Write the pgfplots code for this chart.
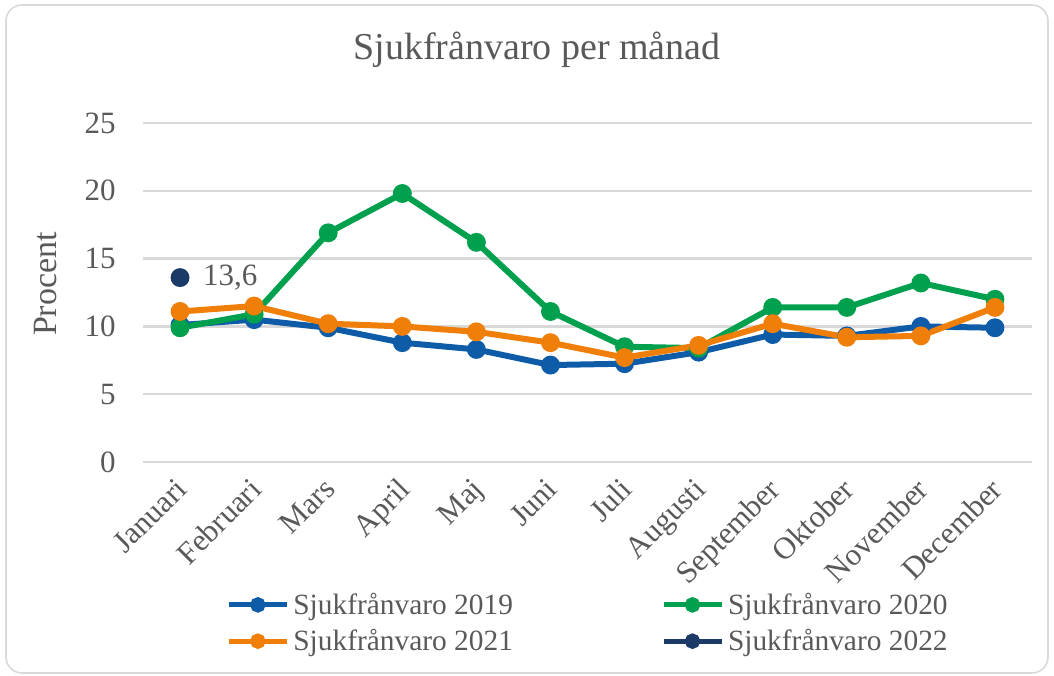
\documentclass[border=0pt]{standalone}
\usepackage{fontspec}
\setmainfont{Liberation Serif}
\usepackage{pgfplots}
\pgfplotsset{compat=1.18}
\definecolor{cBlue}{HTML}{0E5CA8}
\definecolor{cGreen}{HTML}{00A04F}
\definecolor{cOrange}{HTML}{F07F09}
\definecolor{cNavy}{HTML}{1B3A68}
\definecolor{cText}{HTML}{595959}
\definecolor{cGrid}{HTML}{D9D9D9}
\begin{document}
\begin{tikzpicture}
\useasboundingbox (0,0) rectangle (527pt,337.5pt);
\draw[cGrid, line width=0.8pt, rounded corners=8pt] (3pt,1pt) rectangle (524pt,335pt);
\node[text=cText, font=\fontsize{19}{22}\selectfont] at (268.5pt,312.5pt) {Sjukfrånvaro per månad};
\node[text=cText, rotate=90, font=\fontsize{17}{20}\selectfont] at (23pt,195.5pt) {Procent};
\begin{axis}[
  at={(71.5pt,106.5pt)}, anchor=south west,
  scale only axis, width=444.5pt, height=169.5pt,
  xmin=-0.5, xmax=11.5, ymin=0, ymax=25,
  ytick={0,5,10,15,20,25},
  xtick={0,...,11},
  xticklabels={Januari,Februari,Mars,April,Maj,Juni,Juli,Augusti,September,Oktober,November,December},
  axis line style={draw=none},
  major tick length=0pt,
  ymajorgrids, grid style={cGrid, line width=1.2pt},
  /pgf/number format/assume math mode=true,
  tick label style={text=cText, font=\fontsize{15.5}{18}\selectfont},
  yticklabel style={anchor=east, inner sep=0pt, xshift=-13.5pt},
  xticklabel style={xshift=-3pt, yshift=-7pt, rotate=45, anchor=north east, inner sep=0pt},
  every axis plot/.append style={line width=3pt, mark=*, mark size=3.2pt},
  legend columns=2,
  legend style={draw=none, fill=none, at={(0.5017,-0.475)}, anchor=center,
    font=\fontsize{14.7}{17}\selectfont, text=cText,
    /tikz/every even column/.append style={column sep=72pt},
    row sep=2pt},
  legend cell align=left,
  legend image code/.code={\draw[mark repeat=2,mark phase=2,line width=2.5pt, mark size=2.6pt] plot coordinates {(0pt,0pt) (14.5pt,0pt) (29pt,0pt)};},
]
\addplot[cBlue, mark options={fill=cBlue, draw=cBlue}] coordinates {
(0,10.1) (1,10.5) (2,9.9) (3,8.8) (4,8.3) (5,7.15) (6,7.25) (7,8.1) (8,9.4) (9,9.3) (10,10.0) (11,9.9)};
\addlegendentry{Sjukfrånvaro 2019}
\addplot[cGreen, mark options={fill=cGreen, draw=cGreen}] coordinates {
(0,9.9) (1,10.9) (2,16.9) (3,19.8) (4,16.2) (5,11.1) (6,8.5) (7,8.4) (8,11.4) (9,11.4) (10,13.2) (11,12.0)};
\addlegendentry{Sjukfrånvaro 2020}
\addplot[cOrange, mark options={fill=cOrange, draw=cOrange}] coordinates {
(0,11.1) (1,11.5) (2,10.2) (3,10.0) (4,9.6) (5,8.8) (6,7.7) (7,8.6) (8,10.2) (9,9.2) (10,9.3) (11,11.4)};
\addlegendentry{Sjukfrånvaro 2021}
\addplot[cNavy, mark options={fill=cNavy, draw=cNavy},
  nodes near coords={13{,}6},
  nodes near coords style={anchor=west, inner sep=0pt, xshift=10pt, text=cText, font=\fontsize{15.5}{18}\selectfont}] coordinates {(0,13.6)};
\addlegendentry{Sjukfrånvaro 2022}
\end{axis}
\end{tikzpicture}
\end{document}
